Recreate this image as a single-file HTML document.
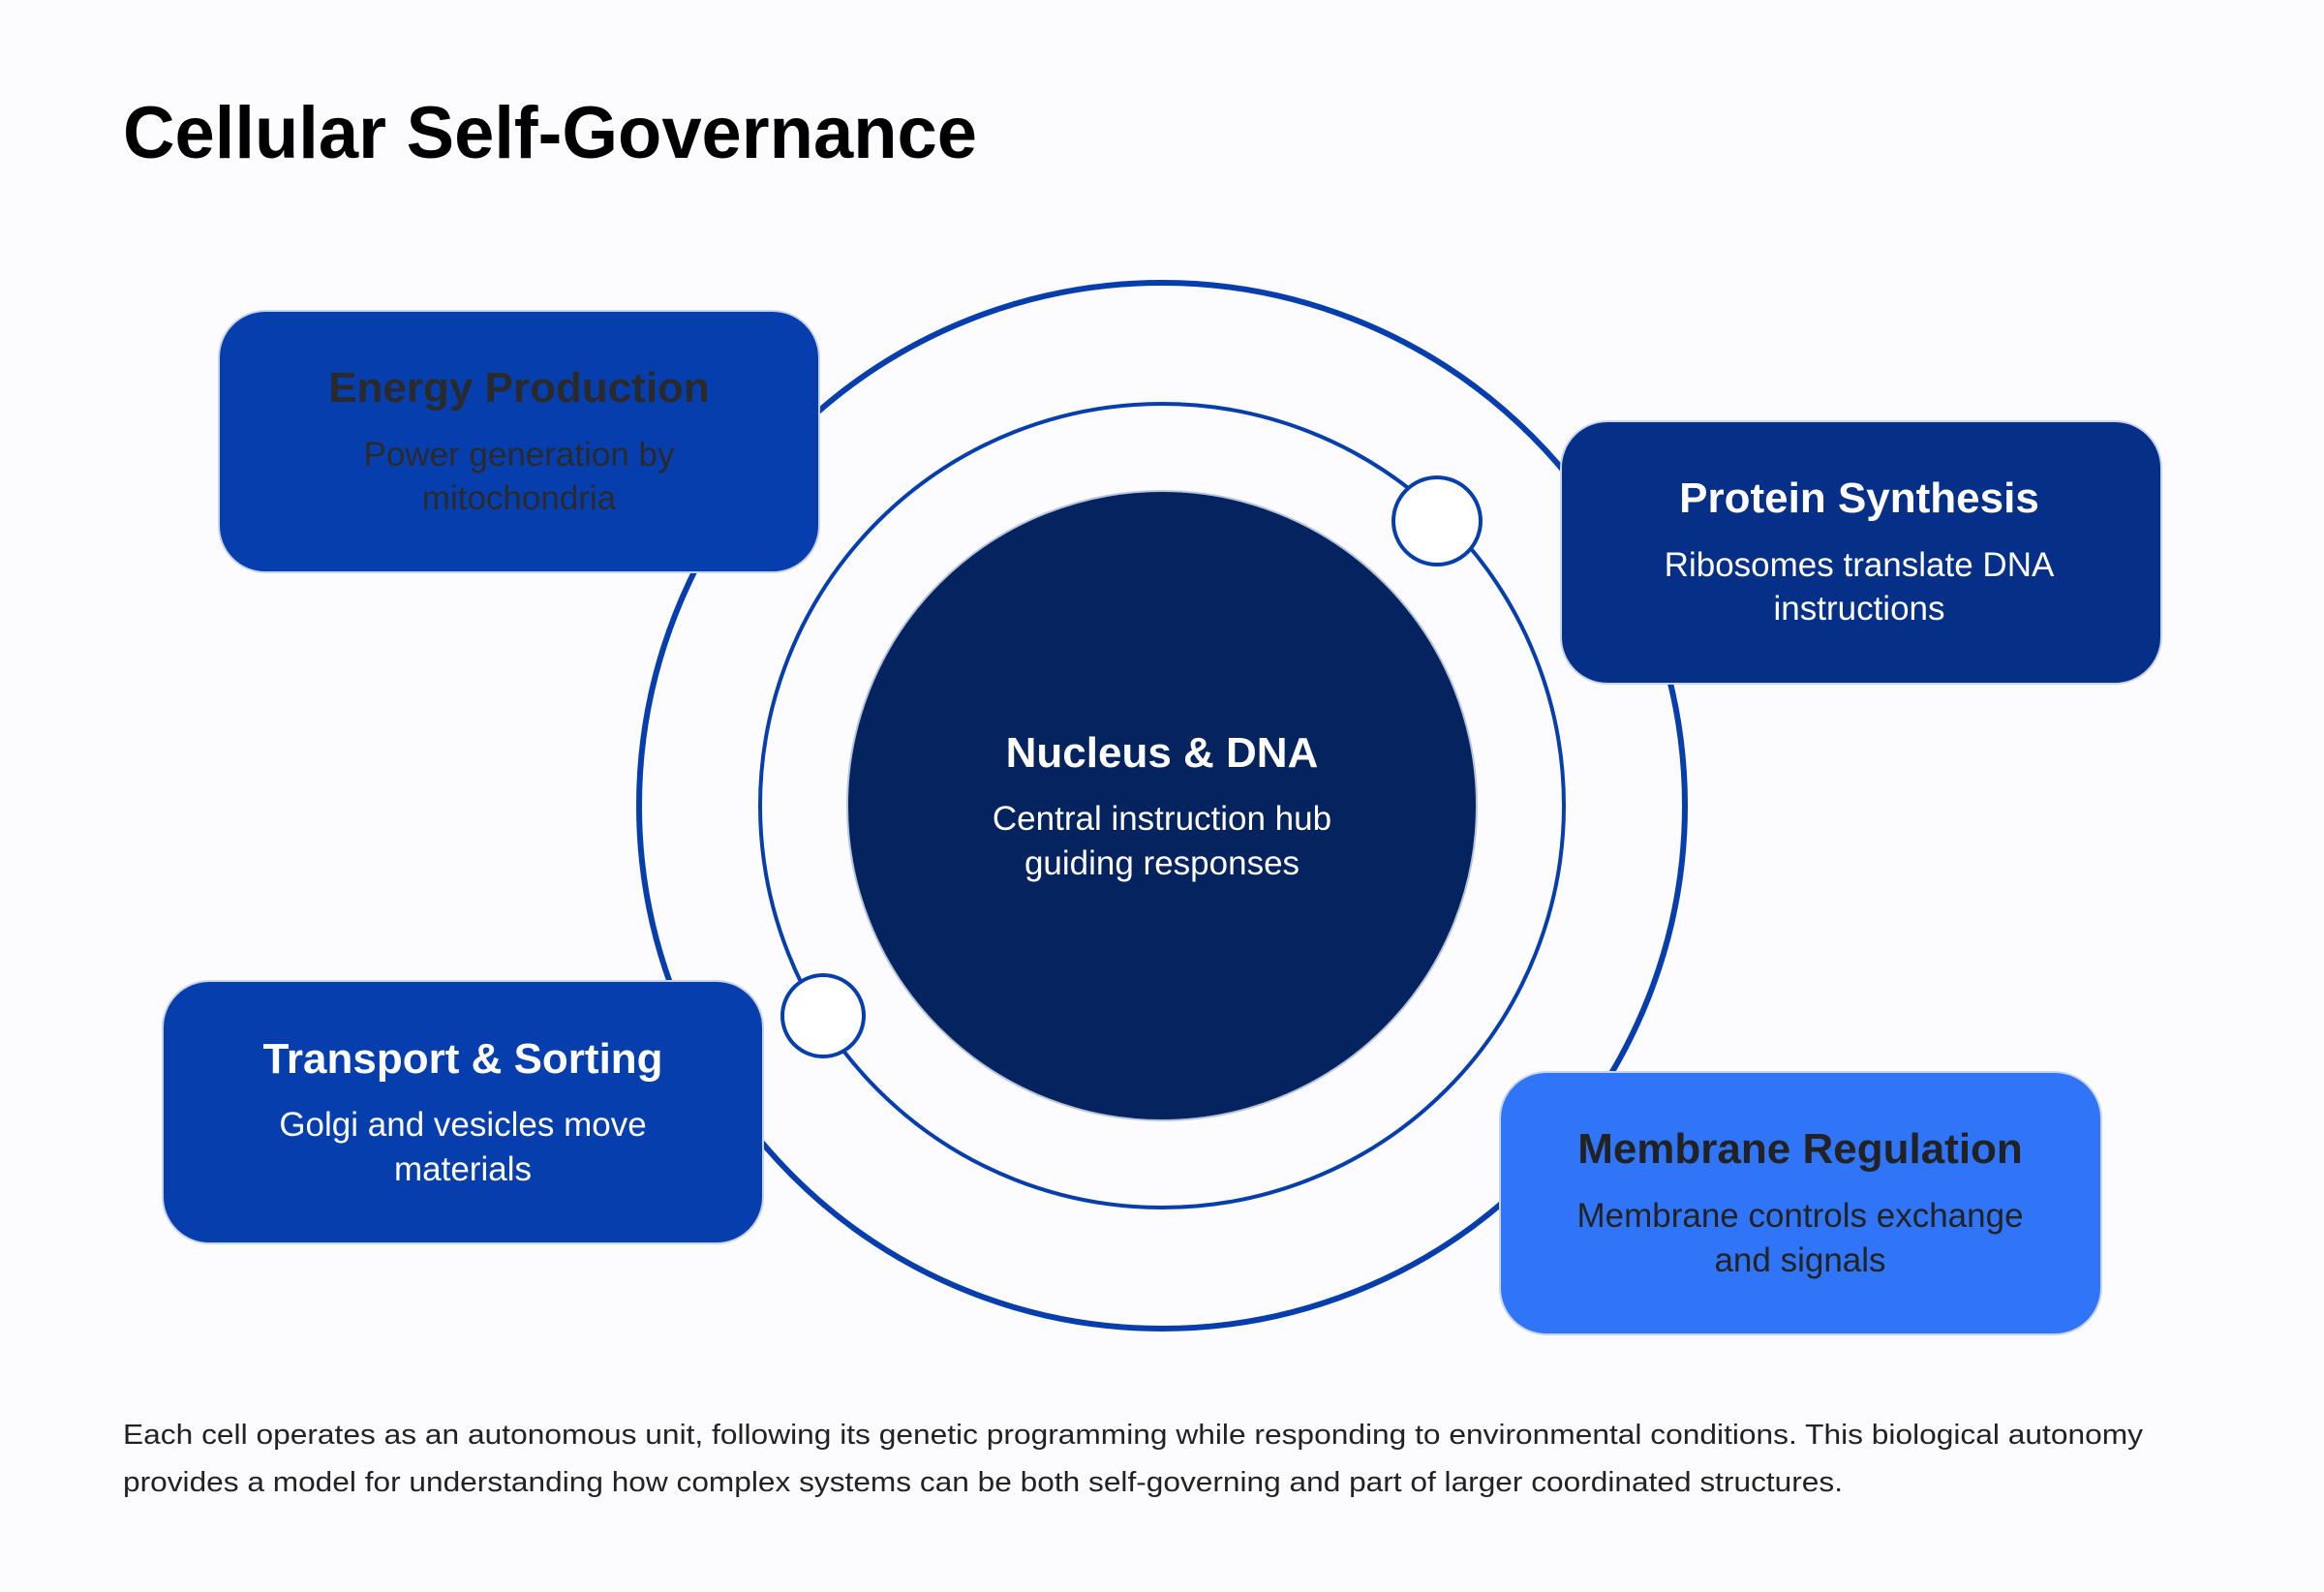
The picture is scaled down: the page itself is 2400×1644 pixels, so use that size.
<!DOCTYPE html>
<html><head><meta charset="utf-8"><style>
html,body{margin:0;padding:0;background:#fcfcfe;}
svg{display:block;font-family:"Liberation Sans",Arial,sans-serif;}
</style></head><body>
<svg width="2400" height="1644" viewBox="0 0 2400 1644" xmlns="http://www.w3.org/2000/svg">
<rect width="2400" height="1644" fill="#fcfcfe"/>
<text x="127" y="163" font-size="76" font-weight="bold" fill="#000" textLength="882" lengthAdjust="spacingAndGlyphs">Cellular Self-Governance</text>
<circle cx="1200" cy="832" r="540" fill="none" stroke="#063fad" stroke-width="6"/>
<circle cx="1200" cy="832" r="415" fill="none" stroke="#063fad" stroke-width="4"/>
<circle cx="1200" cy="832" r="325" fill="#05235f" stroke="#b8c4dc" stroke-width="2"/>
<circle cx="1484" cy="538" r="45" fill="#fff" stroke="#063fad" stroke-width="4"/>
<circle cx="850" cy="1049" r="42" fill="#fff" stroke="#063fad" stroke-width="4"/>
<g text-anchor="middle">
<text x="1200" y="792" font-size="44" font-weight="bold" fill="#fff">Nucleus &amp; DNA</text>
<text x="1200" y="857" font-size="35" fill="#fff">Central instruction hub</text>
<text x="1200" y="903" font-size="35" fill="#fff">guiding responses</text>

<rect x="226" y="321" width="620" height="270" rx="48" fill="#063fad" stroke="#c8d4ea" stroke-width="2"/>
<text x="536" y="415" font-size="44" font-weight="bold" fill="#2a2a2a">Energy Production</text>
<text x="536" y="481" font-size="35" fill="#2a2a2a">Power generation by</text>
<text x="536" y="526" font-size="35" fill="#2a2a2a">mitochondria</text>

<rect x="1612" y="435" width="620" height="271" rx="48" fill="#062f87" stroke="#c8d4ea" stroke-width="2"/>
<text x="1920" y="529" font-size="44" font-weight="bold" fill="#fff">Protein Synthesis</text>
<text x="1920" y="595" font-size="35" fill="#fff">Ribosomes translate DNA</text>
<text x="1920" y="640" font-size="35" fill="#fff">instructions</text>

<rect x="168" y="1013" width="620" height="271" rx="48" fill="#063fad" stroke="#c8d4ea" stroke-width="2"/>
<text x="478" y="1108" font-size="44" font-weight="bold" fill="#fff">Transport &amp; Sorting</text>
<text x="478" y="1173" font-size="35" fill="#fff">Golgi and vesicles move</text>
<text x="478" y="1219" font-size="35" fill="#fff">materials</text>

<rect x="1549" y="1107" width="621" height="271" rx="48" fill="#3075f7" stroke="#c8d4ea" stroke-width="2"/>
<text x="1859" y="1201" font-size="44" font-weight="bold" fill="#222">Membrane Regulation</text>
<text x="1859" y="1267" font-size="35" fill="#222">Membrane controls exchange</text>
<text x="1859" y="1313" font-size="35" fill="#222">and signals</text>
</g>
<text x="127" y="1491" font-size="29" fill="#222" textLength="2086" lengthAdjust="spacingAndGlyphs">Each cell operates as an autonomous unit, following its genetic programming while responding to environmental conditions. This biological autonomy</text>
<text x="127" y="1540" font-size="29" fill="#222" textLength="1776" lengthAdjust="spacingAndGlyphs">provides a model for understanding how complex systems can be both self-governing and part of larger coordinated structures.</text>
</svg>
</body></html>
